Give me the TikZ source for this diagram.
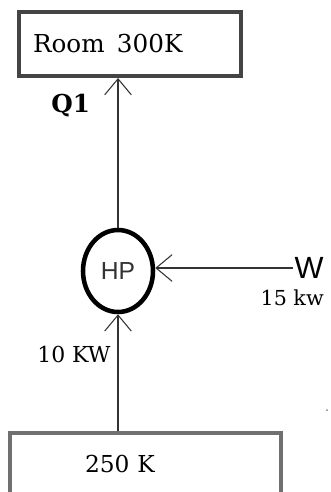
\documentclass[tikz,border=0pt]{standalone}
\usepackage{fontspec}
\setmainfont{DejaVu Serif}
\newfontfamily\hpfont{Liberation Sans}
\usetikzlibrary{arrows.meta,shapes.geometric}
\definecolor{GrisCaja}{RGB}{68,68,68}
\definecolor{GrisBase}{RGB}{112,112,112}

\begin{document}
\begin{tikzpicture}[x=0.75pt,y=-0.75pt,
  caja/.style={draw,line width=3pt,align=left,inner ysep=0pt},
  etiqueta/.style={inner sep=0pt,text=black},
  flujo/.style={-{Straight Barb[length=12pt,width=20pt]},line width=0.8pt,black!80}]
  \useasboundingbox (0,0) rectangle (330,492);
  \clip (0,0) rectangle (330,492);
  \node (room) [caja,draw=GrisCaja,text=black,minimum height=48pt,text width=145.5pt,inner xsep=10.5pt,
    font=\fontsize{18.5}{20}\selectfont] at (130,44) {Room\hspace{0.5em}300K};
  \node (base) [caja,draw=GrisBase,text=black,minimum height=46.5pt,text width=90.75pt,inner xsep=56.25pt,
    font=\fontsize{17.5}{19}\selectfont] at (145.5,464) {250 K};
  \node (hp) [draw,ellipse,line width=3.4pt,minimum width=52.5pt,minimum height=61.5pt,
    inner sep=0pt,text=black!80,font=\hpfont\fontsize{18.5}{20}\selectfont] at (118,271) {HP};
  \node (w) [anchor=west,inner sep=1pt,font=\hpfont\fontsize{23}{25}\selectfont] at (293,268) {W};
  \draw[flujo] (hp.north) -- (hp.north |- room.south);
  \draw[flujo] (base.north -| hp.south) -- (hp.south);
  \draw[flujo] (w.west) -- (w.west -| hp.east);
  \node (q) [etiqueta,anchor=base west,font=\bfseries\fontsize{18.5}{20}\selectfont] at (51,112) {Q1};
  \node (kwa) [etiqueta,anchor=base west,font=\fontsize{16.5}{18}\selectfont] at (37,362) {10 KW};
  \node (kwb) [etiqueta,anchor=base east,font=\fontsize{15.5}{17}\selectfont] at (324,305) {15 kw};
  \fill[gray] (327,410) circle (1);
\end{tikzpicture}
\end{document}
